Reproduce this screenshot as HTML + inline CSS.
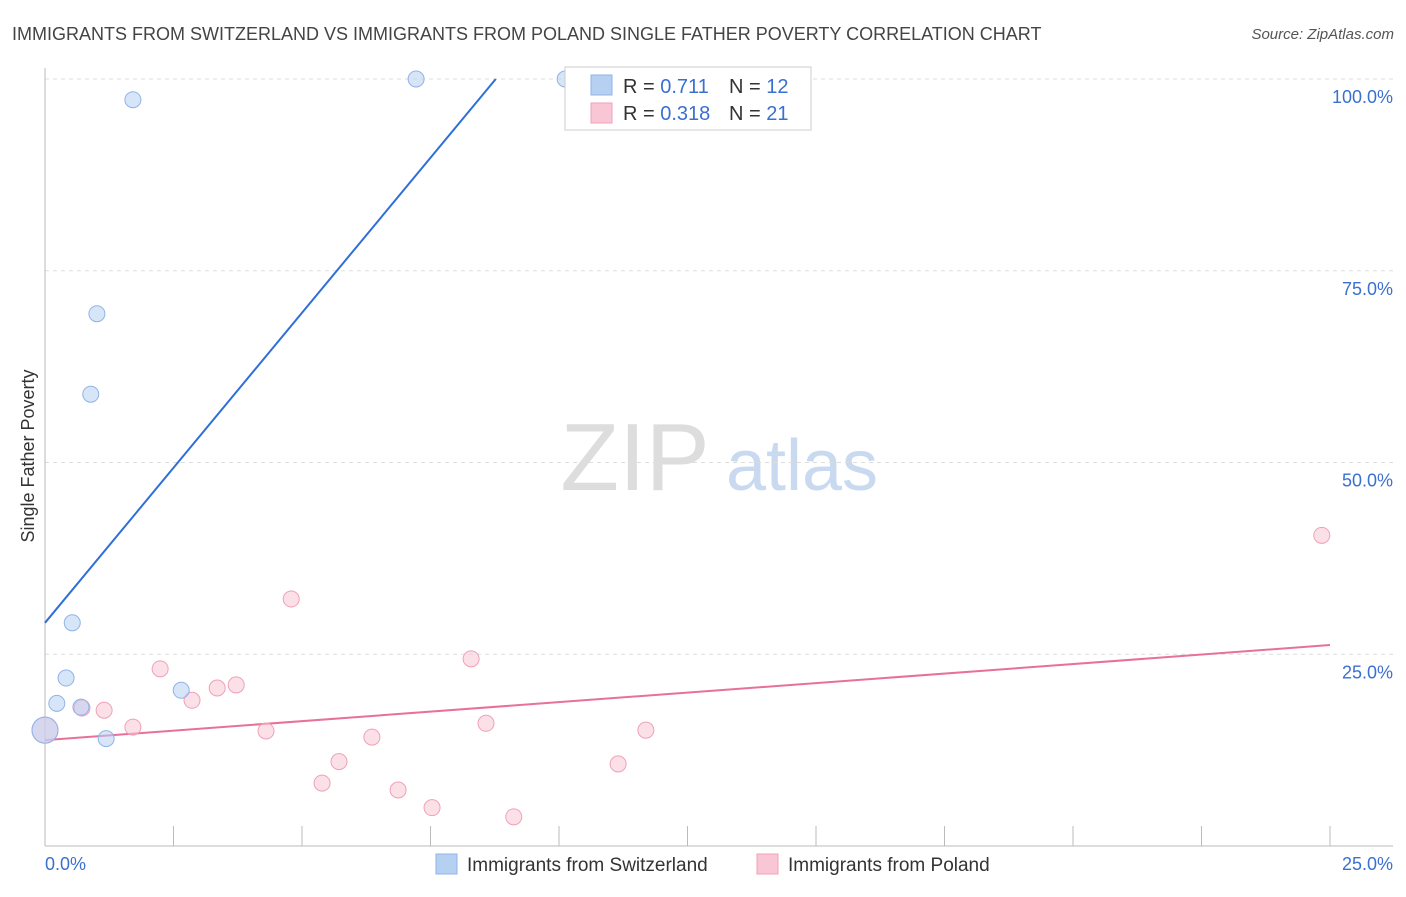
<!DOCTYPE html>
<html><head><meta charset="utf-8">
<style>
body{margin:0;background:#fff;font-family:"Liberation Sans",sans-serif;}
svg text{font-family:"Liberation Sans",sans-serif;}
</style></head>
<body>
<svg id="chart" width="1406" height="892" xmlns="http://www.w3.org/2000/svg">
<text x="12" y="40" font-size="18" fill="#444">IMMIGRANTS FROM SWITZERLAND VS IMMIGRANTS FROM POLAND SINGLE FATHER POVERTY CORRELATION CHART</text>
<text x="1394" y="39" font-size="15" fill="#555" text-anchor="end" font-style="italic">Source: ZipAtlas.com</text>
<text transform="translate(34,456) rotate(-90)" font-size="18" fill="#333" text-anchor="middle">Single Father Poverty</text>
<g>
<text x="635" y="490" font-size="96" fill="#ddd" text-anchor="middle" font-family="Liberation Serif, serif">ZIP</text>
<text x="802" y="490" font-size="72" fill="#c9daf0" text-anchor="middle">atlas</text>
</g>
<g id="grid"></g>
<g id="axes"></g>
<g id="lines"></g>
<g id="points"></g>
<g>
<rect x="565" y="67" width="246" height="63" fill="#fff" stroke="#ccc"/>
<rect x="591" y="75" width="21" height="20" fill="#b6d0f2" stroke="#8fb3e8"/>
<rect x="591" y="103" width="21" height="20" fill="#f9c6d5" stroke="#f0a0b8"/>
<text x="623" y="93" font-size="20" fill="#333">R = <tspan fill="#3a70d0">0.711</tspan></text>
<text x="729" y="93" font-size="20" fill="#333">N = <tspan fill="#3a70d0">12</tspan></text>
<text x="623" y="120" font-size="20" fill="#333">R = <tspan fill="#3a70d0">0.318</tspan></text>
<text x="729" y="120" font-size="20" fill="#333">N = <tspan fill="#3a70d0">21</tspan></text>
</g>
<g>
<rect x="436" y="854" width="21" height="20" fill="#b6d0f2" stroke="#8fb3e8"/>
<text x="467" y="871" font-size="19" fill="#333">Immigrants from Switzerland</text>
<rect x="757" y="854" width="21" height="20" fill="#f9c6d5" stroke="#f0a0b8"/>
<text x="788" y="871" font-size="19" fill="#333">Immigrants from Poland</text>
</g>
</svg>
<script>
const blueX=[0,0.23,0.41,0.53,0.70,0.89,1.01,1.19,1.71,2.65,7.22,10.12];
const blueY=[15.1,18.6,21.9,29.1,18.1,58.9,69.4,14.0,97.3,20.3,100,100];
const pinkX=[0,0.72,1.15,1.71,2.24,2.86,3.35,3.72,4.30,4.79,5.39,5.72,6.36,6.87,7.53,8.29,8.58,9.12,11.15,11.69,24.84];
const pinkY=[15.1,18.0,17.7,15.5,23.1,19.0,20.6,21.0,15.0,32.2,8.2,11.0,14.2,7.3,5.0,24.4,16.0,3.8,10.7,15.1,40.5];
const blueLine=[[0,29.1],[8.77,100]];
const pinkLine=[[0,13.8],[25,26.2]];
const yTicks=[25,50,75,100];
const yTickLabels=["25.0%","50.0%","75.0%","100.0%"];
const NS="http://www.w3.org/2000/svg";
const X=v=>45+v/25*1285, Y=v=>846-v/100*767;
function mk(t,a,p){const e=document.createElementNS(NS,t);for(const k in a)e.setAttribute(k,a[k]);document.getElementById(p).appendChild(e);return e;}
yTicks.forEach((t,i)=>{
 const l=mk('line',{x1:45,x2:1393,y1:Y(t),y2:Y(t),stroke:'#ddd','stroke-dasharray':'4,4'},'grid');
 
 
 const tx=mk('text',{x:1393,y:Y(t)+24,'font-size':18,fill:'#3a70d0','text-anchor':'end'},'axes');
 tx.textContent=yTickLabels[i];
 
 
});
const ax=mk('line',{x1:45,x2:1393,y1:846,y2:846,stroke:'#bbb'},'axes');


const ay=mk('line',{x1:45,x2:45,y1:68,y2:846,stroke:'#bbb'},'axes');


for(let i=0;i<=10;i++){const tk=mk('line',{x1:X(i*2.5),x2:X(i*2.5),y1:826,y2:846,stroke:'#bbb'},'axes');
 
 }
const x0=mk('text',{x:45,y:870,'font-size':18,fill:'#3a70d0'},'axes');x0.textContent='0.0%';


const x1=mk('text',{x:1393,y:870,'font-size':18,fill:'#3a70d0','text-anchor':'end'},'axes');x1.textContent='25.0%';


function pts(xs,ys,fill,stroke,name){xs.forEach((x,i)=>{const c=mk('circle',{cx:X(x),cy:Y(ys[i]),r:(x===0?13:8),fill:fill,'fill-opacity':0.55,stroke:stroke},'points');
 
 });}
pts(pinkX,pinkY,'#f9c6d5','#f0a0b8','poland-point');
pts(blueX,blueY,'#b6d0f2','#8fb3e8','switzerland-point');
const bl=mk('line',{x1:X(blueLine[0][0]),y1:Y(blueLine[0][1]),x2:X(blueLine[1][0]),y2:Y(blueLine[1][1]),stroke:'#2f6fd6','stroke-width':2},'lines');


const pl=mk('line',{x1:X(pinkLine[0][0]),y1:Y(pinkLine[0][1]),x2:X(pinkLine[1][0]),y2:Y(pinkLine[1][1]),stroke:'#e8709a','stroke-width':2},'lines');


</script>
</body></html>
